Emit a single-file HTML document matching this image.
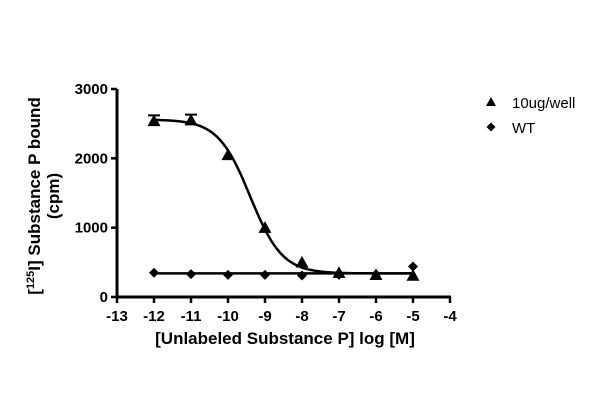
<!DOCTYPE html>
<html><head><meta charset="utf-8"><style>
html,body{margin:0;padding:0;background:#fff;}
svg{display:block;font-family:"Liberation Sans",Arial,sans-serif;font-weight:bold;}
</style></head><body>
<svg id="chart" width="600" height="420" viewBox="0 0 600 420" xmlns="http://www.w3.org/2000/svg"></svg>
<script>
const xTicks=[-13,-12,-11,-10,-9,-8,-7,-6,-5,-4];
const yTicks=[0,1000,2000,3000];
const doses=[-12,-11,-10,-9,-8,-7,-6,-5];
const series10ug=[2540,2550,2050,1000,500,350,320,310];
const err10ug=[80,80,0,0,0,0,0,0];
const seriesWT=[350,330,320,320,310,320,330,440];
const fitTop=2560, fitBottom=340, fitLogIC50=-9.4, fitHill=1.0;
const wtLevel=340;

const NS="http://www.w3.org/2000/svg";
const svg=document.getElementById('chart');
const X0=117,X1=450,Y0=297,Y1=89;
const xs=v=>X0+(v+13)/9*(X1-X0);
const ys=v=>Y0-v/3000*(Y0-Y1);
function mk(t,a,p){const e=document.createElementNS(NS,t);for(const k in a)e.setAttribute(k,a[k]);(p||svg).appendChild(e);return e;}

const axes=mk('g',{});


mk('line',{x1:X0,y1:Y0,x2:X1+1,y2:Y0,stroke:'#000','stroke-width':3},axes);
mk('line',{x1:X0,y1:Y0+1,x2:X0,y2:Y1,stroke:'#000','stroke-width':3},axes);
xTicks.forEach(v=>{
  mk('line',{x1:xs(v),y1:Y0,x2:xs(v),y2:Y0+6,stroke:'#000','stroke-width':2.5},axes);
  const t=mk('text',{x:xs(v),y:Y0+24,'text-anchor':'middle','font-size':15},axes);
  
  
  t.textContent=v;
});
yTicks.forEach(v=>{
  mk('line',{x1:X0-6,y1:ys(v),x2:X0,y2:ys(v),stroke:'#000','stroke-width':2.5},axes);
  const t=mk('text',{x:X0-9,y:ys(v)+5,'text-anchor':'end','font-size':15},axes);
  
  
  t.textContent=v;
});
const xt=mk('text',{x:285,y:344,'text-anchor':'middle','font-size':17});


xt.textContent='[Unlabeled Substance P] log [M]';
const yt=mk('text',{transform:'translate(40,196) rotate(-90)','text-anchor':'middle','font-size':17});


yt.innerHTML='[<tspan font-size="11" dy="-6">125</tspan><tspan dy="6">I] Substance P bound</tspan>';
const yt2=mk('text',{transform:'translate(59,196) rotate(-90)','text-anchor':'middle','font-size':17});


yt2.textContent='(cpm)';

// fit curve
let d='';
for(let i=0;i<=200;i++){const x=-12+7*i/200;const y=fitBottom+(fitTop-fitBottom)/(1+Math.pow(10,(x-fitLogIC50)*fitHill));d+=(i?'L':'M')+xs(x).toFixed(1)+','+ys(y).toFixed(1);}
const fc=mk('path',{d:d,fill:'none',stroke:'#000','stroke-width':2.5});


const wl=mk('line',{x1:xs(-12),y1:ys(wtLevel),x2:xs(-5),y2:ys(wtLevel),stroke:'#000','stroke-width':2.5});



function tri(cx,cy,s){return `${cx},${cy-s} ${cx-s},${cy+s*0.8} ${cx+s},${cy+s*0.8}`;}
function dia(cx,cy,s){return `${cx},${cy-s} ${cx+s},${cy} ${cx},${cy+s} ${cx-s},${cy}`;}

seriesWT.forEach((v,i)=>{
  const p=mk('polygon',{points:dia(xs(doses[i]),ys(v),5),fill:'#000'});
  
  
});
series10ug.forEach((v,i)=>{
  const cx=xs(doses[i]),cy=ys(v);
  if(err10ug[i]>0){
    const e=mk('path',{d:`M${cx},${cy} V${ys(v+err10ug[i])} M${cx-6},${ys(v+err10ug[i])} H${cx+6}`,stroke:'#000','stroke-width':2,fill:'none'});
    
    
  }
  const p=mk('polygon',{points:tri(cx,cy,6.5),fill:'#000'});
  
  
});

// legend
const lg=mk('g',{});


const l1=mk('polygon',{points:tri(491,102,5),fill:'#000'},lg);


const t1=mk('text',{x:512,y:108,'font-size':15,'font-weight':'normal'},lg);


t1.textContent='10ug/well';
const l2=mk('polygon',{points:dia(491,127,4.5),fill:'#000'},lg);


const t2=mk('text',{x:512,y:133,'font-size':15,'font-weight':'normal'},lg);


t2.textContent='WT';
</script>
</body></html>
